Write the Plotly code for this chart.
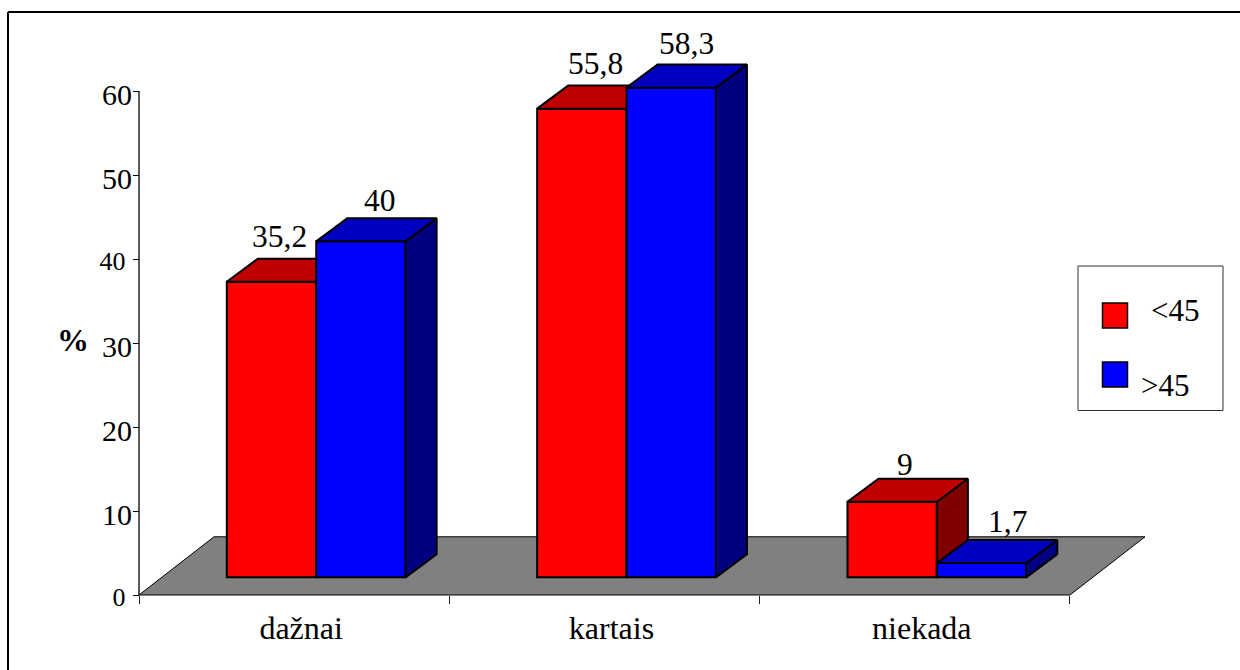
import plotly.graph_objects as go

# Survey shares (%) by answer and age group
categories = ["dažnai", "kartais", "niekada"]
series_names = ["<45", ">45"]
under_45 = [35.2, 55.8, 9]
over_45 = [40, 58.3, 1.7]
value_labels_under = ["35,2", "55,8", "9"]
value_labels_over = ["40", "58,3", "1,7"]
y_ticks = [0, 10, 20, 30, 40, 50, 60]

# Page geometry in pixels
W, H = 1240, 670
SERIF = "Liberation Serif, Times New Roman, serif"
TEXT_SIZE = 31.5
X0_PX, CAT_PX = 139.0, 310.33      # left axis position, width of one category
Y0_PX, UNIT_PX = 595.0, 8.4        # baseline position, pixels per percent
LEFT_PX, RIGHT_PX = 130.0, 1150.0  # plot area
BOTTOM_PX, TOP_PX = 600.0, 30.0

# Oblique projection used for the bar depth and the floor
BAR_DX, BAR_DY = 0.1, 2.74
FLOOR_DX, FLOOR_DY = 0.2417, 6.93
BAR_BASE = 2.1
BAR_WIDTH = 0.288
GROUP_CENTER = 0.571


def faces(x_center, value):
    """Top and side polygons of one extruded bar."""
    x0, x1 = x_center - BAR_WIDTH / 2, x_center + BAR_WIDTH / 2
    top = BAR_BASE + value
    top_face = ([x0, x1, x1 + BAR_DX, x0 + BAR_DX, x0],
                [top, top, top + BAR_DY, top + BAR_DY, top])
    side_face = ([x1, x1 + BAR_DX, x1 + BAR_DX, x1, x1],
                 [BAR_BASE, BAR_BASE + BAR_DY, top + BAR_DY, top, BAR_BASE])
    return top_face, side_face


def series_traces(values, name, front, top_color, side_color, shift, xref, yref):
    xs = [i + GROUP_CENTER + shift for i in range(len(values))]
    traces = [go.Bar(x=xs, y=values, base=[BAR_BASE] * len(values), width=BAR_WIDTH,
                     name=name, marker=dict(color=front, line=dict(color="black", width=2)),
                     xaxis=xref, yaxis=yref, showlegend=False)]
    for x, v in zip(xs, values):
        top_face, side_face = faces(x, v)
        for (px, py), color in ((side_face, side_color), (top_face, top_color)):
            traces.append(go.Scatter(x=px, y=py, mode="lines", fill="toself", fillcolor=color,
                                     line=dict(color="black", width=2), xaxis=xref, yaxis=yref,
                                     showlegend=False, hoverinfo="skip"))
    return traces


fig = go.Figure()
half = BAR_WIDTH / 2
fig.add_traces(series_traces(under_45, series_names[0], "#ff0000", "#c00000", "#800000", -half, "x", "y"))
# Second series sits on an overlaid subplot so it paints over the first
fig.add_traces(series_traces(over_45, series_names[1], "#0000ff", "#0000c0", "#000080", half, "x2", "y2"))

x_range = [(LEFT_PX - X0_PX) / CAT_PX, (RIGHT_PX - X0_PX) / CAT_PX]
y_range = [(Y0_PX - BOTTOM_PX) / UNIT_PX, (Y0_PX - TOP_PX) / UNIT_PX]
x_domain = [LEFT_PX / W, RIGHT_PX / W]
y_domain = [1 - BOTTOM_PX / H, 1 - TOP_PX / H]

n_cat = len(categories)
floor_path = (f"M 0,0 L {FLOOR_DX},{FLOOR_DY} L {n_cat + FLOOR_DX},{FLOOR_DY} L {n_cat},0 Z")


def tick_text(v):
    # 40 and 0 are set slightly smaller and further from the axis; the rest hang below their tick
    if v in (40, 0):
        return f'<span style="font-size:26px">{v}&#160;</span>'
    return f'<span style="baseline-shift:-3px">{v}</span>'


shapes = [
    dict(type="path", path=floor_path, xref="x", yref="y", layer="below",
         fillcolor="#808080", line=dict(color="black", width=1)),
    # vertical axis line stops at the top tick
    dict(type="line", xref="x", yref="y", x0=0, x1=0, y0=0, y1=y_ticks[-1], layer="below",
         line=dict(color="black", width=1.3)),
    # page frame: top and left rules
    dict(type="line", xref="paper", yref="paper", x0=8 / W, x1=1, y0=1 - 12 / H, y1=1 - 12 / H,
         line=dict(color="black", width=2)),
    dict(type="line", xref="paper", yref="paper", x0=8 / W, x1=8 / W, y0=0, y1=1 - 12 / H,
         line=dict(color="black", width=2)),
    # legend box and swatches
    dict(type="rect", xref="paper", yref="paper", x0=1078 / W, x1=1223 / W, y0=1 - 410.5 / H, y1=1 - 266 / H,
         line=dict(color="#303030", width=1), fillcolor="white"),
    dict(type="rect", xref="paper", yref="paper", x0=1102.5 / W, x1=1127.5 / W, y0=1 - 328 / H, y1=1 - 303 / H,
         line=dict(color="black", width=1.5), fillcolor="#ff0000"),
    dict(type="rect", xref="paper", yref="paper", x0=1102.5 / W, x1=1127.5 / W, y0=1 - 387 / H, y1=1 - 362 / H,
         line=dict(color="black", width=1.5), fillcolor="#0000ff"),
]


def page_text(text, x_px, y_px, size=31, anchor="center", bold=False):
    label = f"<b>{text}</b>" if bold else text
    return dict(text=label, xref="paper", yref="paper", x=x_px / W, y=1 - y_px / H, xanchor=anchor,
                yanchor="middle", showarrow=False, font=dict(family=SERIF, size=size, color="black"))


# Offsets of the value captions from the top of each bar, in pixels
label_dx_under = [8, 14, 13]
label_dx_over = [19, 15, 26]
label_dy_under = [22, 22, 14]
label_dy_over = [18, 21, 19]

annotations = []
for shift, values, labels, nudges_x, nudges_y in (
        (-half, under_45, value_labels_under, label_dx_under, label_dy_under),
        (half, over_45, value_labels_over, label_dx_over, label_dy_over)):
    for i, (v, text, dx, dy) in enumerate(zip(values, labels, nudges_x, nudges_y)):
        annotations.append(dict(text=text, x=i + GROUP_CENTER + shift, y=BAR_BASE + BAR_DY + v,
                                xref="x", yref="y", showarrow=False, xanchor="center", yanchor="middle",
                                xshift=dx, yshift=dy,
                                font=dict(family=SERIF, size=TEXT_SIZE, color="black")))
annotations.append(page_text("%", 73, 340, size=32, bold=True))
annotations.append(page_text(series_names[0].replace("<", "&lt;"), 1149, 310, anchor="left"))
annotations.append(page_text(series_names[1].replace(">", "&gt;"), 1139, 385, anchor="left"))

fig.update_layout(
    width=W, height=H, margin=dict(l=0, r=0, t=0, b=0, pad=0), autosize=False,
    paper_bgcolor="white", plot_bgcolor="rgba(0,0,0,0)",
    font=dict(family=SERIF, size=TEXT_SIZE, color="black"),
    showlegend=False, barmode="overlay", shapes=shapes, annotations=annotations,
    xaxis=dict(domain=x_domain, range=x_range, anchor="free", position=1 - Y0_PX / H, automargin=False,
               tickvals=[i + 0.5 for i in range(n_cat)], ticktext=categories, ticklabelshift=7,
               ticks="outside", ticklen=5, tickcolor="rgba(0,0,0,0)", showgrid=False, zeroline=False,
               showline=False, tickfont=dict(family=SERIF, size=32),
               minor=dict(tickvals=list(range(n_cat + 1)), ticks="outside", ticklen=8, tickwidth=1,
                          tickcolor="#202020", showgrid=False)),
    yaxis=dict(domain=y_domain, range=y_range, anchor="free", position=X0_PX / W, automargin=False,
               tickvals=y_ticks, ticktext=[tick_text(v) for v in y_ticks], ticklabelstandoff=-5,
               ticks="outside", ticklen=6, tickwidth=1, tickcolor="black", showgrid=False, zeroline=False,
               showline=False, tickfont=dict(family=SERIF, size=30)),
    xaxis2=dict(domain=x_domain, range=x_range, overlaying="x", matches="x", visible=False, automargin=False),
    yaxis2=dict(domain=y_domain, range=y_range, overlaying="y", matches="y", visible=False, automargin=False),
)

fig.write_html("out.html", config=dict(displayModeBar=False))
